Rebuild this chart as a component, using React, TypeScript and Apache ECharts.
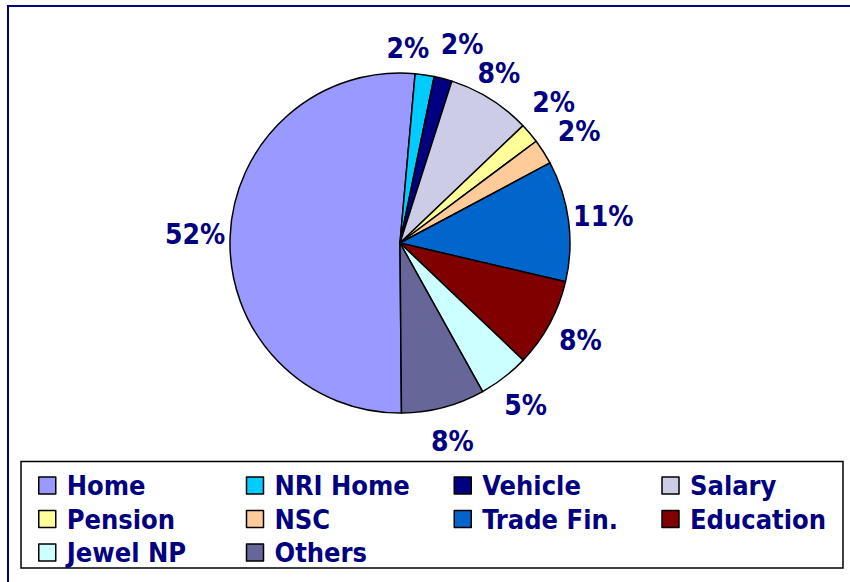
import React, { useEffect, useRef } from "react";
import * as echarts from "echarts";

const categories = ["Home", "NRI Home", "Vehicle", "Salary", "Pension", "NSC", "Trade Fin.", "Education", "Jewel NP", "Others"];
const shares = [51.3, 1.8, 1.7, 7.9, 1.9, 2.4, 11.4, 8.4, 4.8, 7.9];
const colors = ["#9999FF", "#00CCFF", "#000080", "#CCCCE6", "#FFFF99", "#FFCC99", "#0066CC", "#800000", "#CCFFFF", "#666699"];

// label placement tweaks (px) to mimic the original spreadsheet layout
const labelNudge: Record<string, [number, number]> = {
  "NRI Home": [-22, 8],
  Vehicle: [10, 0],
  Salary: [-10, 4],
  Pension: [-3, -8],
  NSC: [6, -2],
};

const FONT = '"DejaVu Sans Condensed", "Liberation Sans", sans-serif';
const CX = 400;
const CY = 243;
const R = 170;
const LABEL_DIST = 205;
const START_ANGLE = -89.5;

function midDirection(idx: number): [number, number] {
  const total = shares.reduce((a, b) => a + b, 0);
  let before = 0;
  for (let i = 0; i < idx; i++) before += shares[i];
  const frac = (before + shares[idx] / 2) / total;
  const ang = (START_ANGLE * Math.PI) / 180 - frac * 2 * Math.PI;
  return [Math.cos(ang), -Math.sin(ang)];
}

export default function App() {
  const ref = useRef<HTMLDivElement>(null);
  useEffect(() => {
    if (!ref.current) return;
    const chart = echarts.init(ref.current, undefined, { renderer: "svg" });
    chart.setOption({
      animation: false,
      backgroundColor: "#ffffff",
      graphic: [
        {
          type: "rect",
          z: 0,
          shape: { x: 8, y: 6, width: 900, height: 700 },
          style: { fill: "none", stroke: "#000080", lineWidth: 2 },
        },
        {
          type: "rect",
          z: 0,
          shape: { x: 21, y: 461.5, width: 822, height: 106.5 },
          style: { fill: "#ffffff", stroke: "#000000", lineWidth: 1.5 },
        },
      ],
      legend: {
        data: categories,
        orient: "horizontal",
        left: 38,
        top: 472,
        width: 830,
        padding: 0,
        icon: "rect",
        itemWidth: 17,
        itemHeight: 17,
        itemGap: 6.5,
        selectedMode: false,
        itemStyle: { borderColor: "#000000", borderWidth: 1.5 },
        textStyle: {
          fontFamily: FONT,
          fontSize: 27,
          fontWeight: "bold",
          color: "#000080",
          lineHeight: 20,
          height: 20,
          width: 172.5,
          padding: [0, 0, 0, 6],
        },
      },
      series: [
        {
          type: "pie",
          center: [CX, CY],
          radius: R,
          startAngle: START_ANGLE,
          clockwise: true,
          avoidLabelOverlap: false,
          color: colors,
          itemStyle: { borderColor: "#000000", borderWidth: 1.5 },
          emphasis: { disabled: true },
          label: {
            show: true,
            position: "outside",
            fontFamily: FONT,
            fontSize: 28,
            fontWeight: "bold",
            color: "#000080",
            formatter: (p: any) => `${Math.round(p.percent)}%`,
          },
          labelLine: { show: true, length: 12, length2: 0, lineStyle: { width: 0, opacity: 0 } },
          labelLayout: (params: any) => {
            let dx: number;
            let dy: number;
            const pts = params.labelLinePoints;
            if (pts && pts[0]) {
              dx = pts[0][0] - CX;
              dy = pts[0][1] - CY;
              const d = Math.hypot(dx, dy) || 1;
              dx /= d;
              dy /= d;
            } else {
              [dx, dy] = midDirection(params.dataIndex);
            }
            const nudge = labelNudge[categories[params.dataIndex]] || [0, 0];
            return {
              x: CX + dx * LABEL_DIST + nudge[0],
              y: CY + dy * LABEL_DIST + nudge[1],
              align: "center",
              verticalAlign: "middle",
            };
          },
          data: categories.map((name, i) => ({ name, value: shares[i] })),
        },
      ],
    });
    return () => chart.dispose();
  }, []);
  return (
    <div
      ref={ref}
      style={{ position: "absolute", left: 0, top: 0, width: 850, height: 582, background: "#ffffff" }}
    />
  );
}
